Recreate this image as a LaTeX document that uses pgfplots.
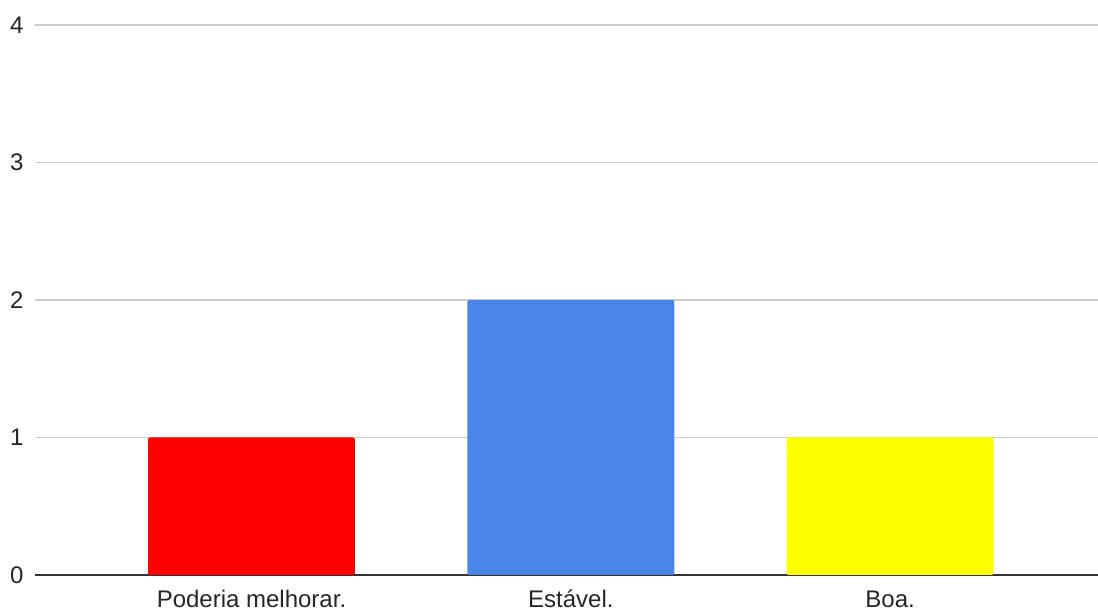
\documentclass[border=0pt]{standalone}
\usepackage{pgfplots}
\pgfplotsset{compat=1.18}
\usepackage{fontspec}
\setmainfont{Liberation Sans}
\definecolor{barred}{HTML}{FF0000}
\definecolor{barblue}{HTML}{4A86E8}
\definecolor{baryellow}{HTML}{FFFF00}
\definecolor{gridgray}{HTML}{CCCCCC}
\definecolor{axisgray}{HTML}{333333}
\begin{document}
\begin{tikzpicture}[x=1pt,y=1pt]
\begin{axis}[
  at={(0,0)}, anchor=south west,
  scale only axis,
  width=1063pt, height=550pt,
  xmin=-0.678, xmax=2.651,
  ymin=0, ymax=4,
  ytick={0,1,2,3,4},
  xtick={0,1,2},
  xticklabels={Poderia melhorar., Estável., Boa.},
  axis x line*=bottom,
  axis y line*=left,
  y axis line style={draw=none},
  ymajorgrids,
  grid style={gridgray, line width=1.2pt},
  x axis line style={axisgray, line width=1.3pt, -},
  major tick length=0pt,
  ticklabel style={font=\fontsize{24}{27}\selectfont, text=black!85},
  xticklabel style={yshift=-12pt, text height=17pt, text depth=5pt},
  yticklabel style={xshift=-8pt},
  /pgf/number format/assume math mode=true,
  ybar, bar width=0.648, bar shift=0pt,
  clip=false,
]
\addplot[fill=barred, draw=none, rounded corners=2pt] coordinates {(0,1)};
\addplot[fill=barblue, draw=none, rounded corners=2pt] coordinates {(1,2)};
\addplot[fill=baryellow, draw=none, rounded corners=2pt] coordinates {(2,1)};
\end{axis}
\pgfresetboundingbox
\path[use as bounding box] (-35,-37) rectangle (1063,575);
\end{tikzpicture}
\end{document}
